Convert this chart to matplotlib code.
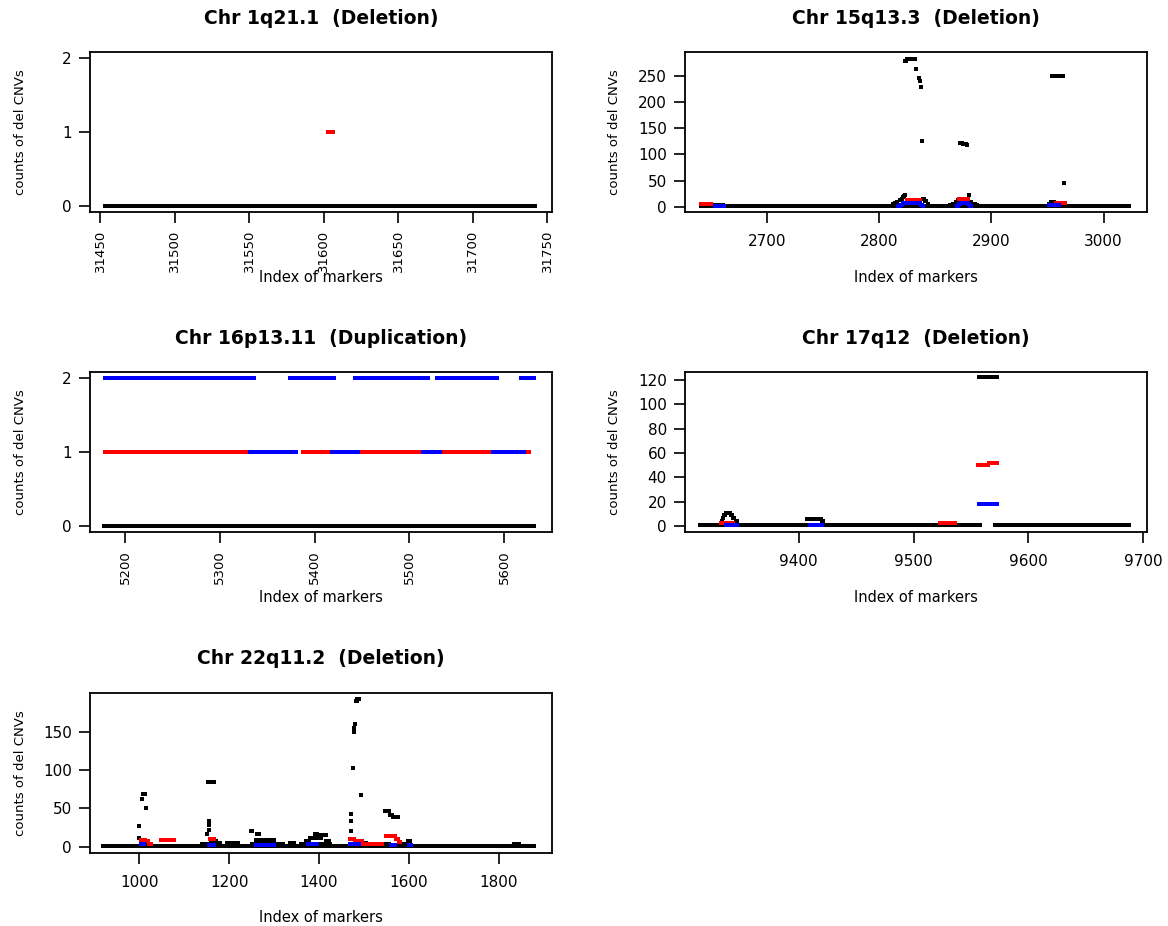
import numpy as np
import matplotlib
matplotlib.use("Agg")
import matplotlib.pyplot as plt

plt.rcParams["font.family"] = ["DejaVu Sans"]

# runs of markers: (first index, last index, count)
p1_black = [(31453, 31742, 0)]
p1_red = [(31603, 31606, 1)]
p1_blue = []

p2_black = [(2641, 3023, 2), (2641, 2660, 4),
            (2812, 2812, 5), (2814, 2814, 7), (2816, 2816, 9), (2818, 2818, 12),
            (2820, 2820, 15), (2821, 2821, 18), (2822, 2822, 20), (2823, 2823, 22),
            (2823, 2824, 277), (2825, 2832, 281), (2833, 2833, 263), (2835, 2835, 245),
            (2836, 2836, 240), (2837, 2837, 229), (2838, 2838, 125),
            (2839, 2840, 15), (2841, 2842, 11), (2843, 2843, 6),
            (2863, 2864, 4), (2866, 2867, 6), (2868, 2869, 9), (2870, 2870, 12),
            (2872, 2874, 121), (2875, 2877, 119), (2878, 2878, 117), (2880, 2880, 22),
            (2881, 2882, 10), (2883, 2885, 6), (2886, 2887, 4),
            (2951, 2952, 5), (2953, 2956, 9), (2954, 2964, 249), (2965, 2965, 45)]
p2_red = [(2641, 2650, 6), (2825, 2836, 12), (2871, 2879, 14), (2958, 2966, 7)]
p2_blue = [(2653, 2661, 1), (2817, 2818, 2), (2819, 2820, 4), (2821, 2836, 7),
           (2837, 2838, 4), (2839, 2839, 2), (2869, 2870, 2), (2871, 2872, 5),
           (2873, 2878, 7), (2879, 2880, 5), (2881, 2882, 2), (2951, 2960, 3)]

p3_black = [(5178, 5631, 0)]
p3_red = [(5179, 5331, 1), (5388, 5417, 1), (5447, 5513, 1), (5533, 5587, 1),
          (5622, 5626, 1)]
p3_blue = [(5179, 5336, 2), (5374, 5420, 2), (5442, 5519, 2), (5529, 5592, 2),
           (5618, 5631, 2), (5332, 5380, 1), (5418, 5446, 1), (5514, 5532, 1),
           (5588, 5621, 1)]

p4_black = [(9314, 9558, 1), (9571, 9688, 1),
            (9333, 9333, 4), (9334, 9334, 7), (9335, 9336, 9), (9337, 9340, 11),
            (9341, 9342, 9), (9343, 9344, 7), (9345, 9346, 4),
            (9407, 9419, 6), (9420, 9421, 4), (9557, 9573, 122)]
p4_red = [(9332, 9343, 3), (9523, 9536, 3), (9556, 9565, 50), (9566, 9573, 52)]
p4_blue = [(9337, 9346, 1), (9410, 9420, 1), (9557, 9573, 18)]

p5_black = [(920, 1878, 1),
            (1000, 1000, 27), (1000, 1000, 12), (1005, 1005, 62), (1009, 1012, 69),
            (1015, 1015, 51), (1003, 1020, 5),
            (1140, 1150, 4), (1150, 1150, 17), (1154, 1154, 33), (1155, 1155, 28),
            (1156, 1156, 22), (1153, 1166, 84), (1160, 1170, 8), (1170, 1180, 5),
            (1195, 1220, 5),
            (1249, 1251, 20), (1262, 1266, 16), (1260, 1275, 9), (1280, 1300, 9),
            (1250, 1320, 4), (1335, 1345, 5),
            (1360, 1425, 4), (1370, 1378, 8), (1380, 1390, 12), (1392, 1396, 16),
            (1398, 1404, 11), (1405, 1415, 15), (1416, 1422, 8),
            (1471, 1471, 43), (1471, 1471, 33), (1471, 1471, 20), (1471, 1471, 10),
            (1476, 1476, 102), (1477, 1477, 150), (1478, 1478, 155), (1479, 1480, 160),
            (1483, 1484, 190), (1485, 1490, 192), (1494, 1494, 67), (1495, 1505, 5),
            (1540, 1556, 4), (1546, 1556, 47), (1557, 1562, 42), (1565, 1576, 39),
            (1590, 1600, 4), (1598, 1602, 8), (1833, 1845, 4)]
p5_red = [(1003, 1012, 9), (1013, 1020, 7), (1021, 1025, 4), (1048, 1076, 9),
          (1158, 1166, 10), (1468, 1478, 10), (1479, 1495, 7), (1496, 1540, 4),
          (1550, 1570, 14), (1571, 1576, 10), (1577, 1580, 6)]
p5_blue = [(1003, 1010, 4), (1155, 1165, 2), (1260, 1300, 2), (1375, 1395, 3),
           (1470, 1488, 4), (1560, 1570, 2), (1600, 1605, 2)]

titles = ["Chr 1q21.1  (Deletion)", "Chr 15q13.3  (Deletion)",
          "Chr 16p13.11  (Duplication)", "Chr 17q12  (Deletion)",
          "Chr 22q11.2  (Deletion)"]
series = [(p1_black, p1_red, p1_blue), (p2_black, p2_red, p2_blue),
          (p3_black, p3_red, p3_blue), (p4_black, p4_red, p4_blue),
          (p5_black, p5_red, p5_blue)]
xticks = [np.arange(31450, 31751, 50), np.arange(2700, 3001, 100),
          np.arange(5200, 5601, 100), np.arange(9400, 9701, 100),
          np.arange(1000, 1801, 200)]
yticks = [[0, 1, 2], np.arange(0, 251, 50), [0, 1, 2], np.arange(0, 121, 20),
          np.arange(0, 151, 50)]
xlims = [(31443, 31753), (2626.5, 3038.5), (5163, 5650), (9301, 9703), (890, 1918)]
ylims = [(-0.08, 2.08), (-10, 295), (-0.08, 2.08), (-4.6, 126.3), (-7.8, 200.8)]
rot_x = [True, False, True, False, False]

W, H = 1168, 926
boxes = [(90, 52), (685, 52), (90, 372), (685, 372), (90, 692.7)]
bw, bh = 461.7, 160


def expand(runs):
    xs, ys = [], []
    for a, b, v in runs:
        idx = np.arange(a, b + 1)
        xs.append(idx)
        ys.append(np.full(len(idx), v))
    if not xs:
        return np.array([]), np.array([])
    return np.concatenate(xs), np.concatenate(ys)


fig = plt.figure(figsize=(W / 100, H / 100), dpi=100)

for i in range(5):
    x0, top = boxes[i]
    ax = fig.add_axes([x0 / W, 1 - (top + bh) / H, bw / W, bh / H])
    for runs, col in zip(series[i], ["black", "red", "blue"]):
        xs, ys = expand(runs)
        ax.plot(xs, ys, ls="none", marker="s", ms=3.3, mew=0, color=col)
    ax.set_xlim(*xlims[i])
    ax.set_ylim(*ylims[i])
    ax.set_xticks(xticks[i])
    ax.set_yticks(yticks[i])
    for s in ax.spines.values():
        s.set_linewidth(1.3)
    ax.tick_params(axis="both", length=8, width=1.2, labelsize=11)
    ax.tick_params(axis="y", pad=5)
    if rot_x[i]:
        ax.tick_params(axis="x", pad=5, labelrotation=90, labelsize=9.5)
    else:
        ax.tick_params(axis="x", pad=8)
    ax.set_xlabel("Index of markers", fontsize=10.5, va="center")
    ax.xaxis.set_label_coords(0.5, -65 / bh)
    ax.set_ylabel("counts of del CNVs", fontsize=9.5, va="center")
    ax.yaxis.set_label_coords(-70 / bw, 0.5)
    ax.text(0.5, 1 + 34 / bh, titles[i], transform=ax.transAxes, ha="center",
            va="center", fontsize=13.5, fontweight="bold")

fig.savefig("out.png", dpi=100)
